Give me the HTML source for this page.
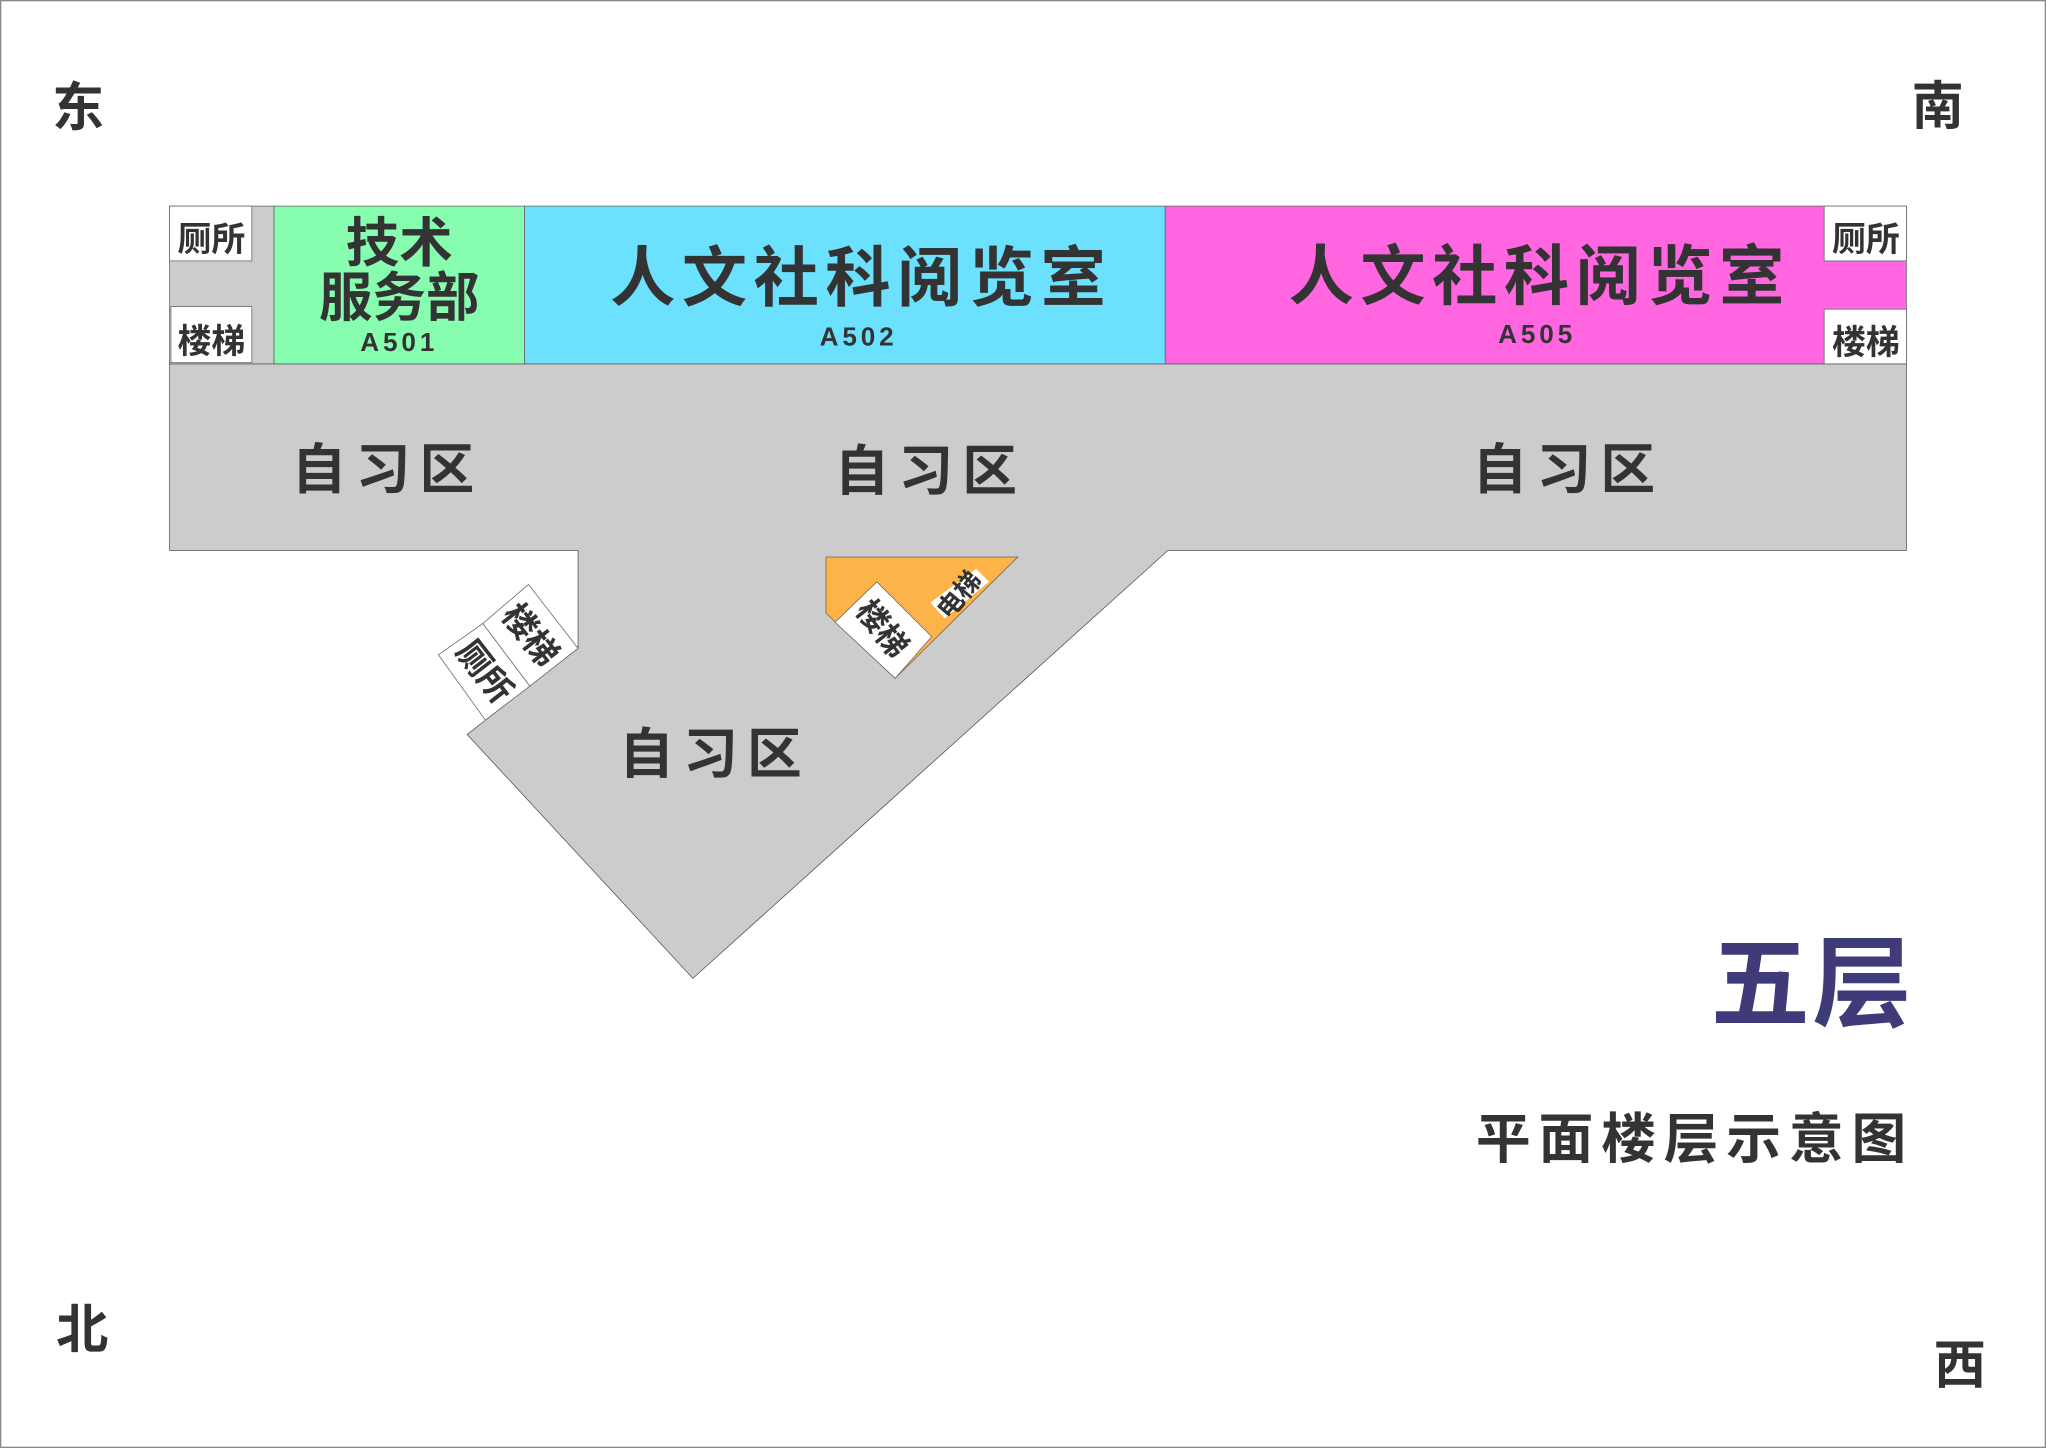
<!DOCTYPE html>
<html><head><meta charset="utf-8"><style>
html,body{margin:0;padding:0;background:#fff;}
svg{display:block;}
text{font-family:"Liberation Sans","Noto Sans CJK SC",sans-serif;font-weight:bold;fill:#333;text-anchor:middle;dominant-baseline:central;}
</style></head><body>
<svg width="2046" height="1448" viewBox="0 0 1568 1110" preserveAspectRatio="none" xmlns="http://www.w3.org/2000/svg">
<rect x="0.5" y="0.5" width="1567" height="1109" fill="#fff" stroke="#888" stroke-width="1"/>
<rect x="130" y="158" width="80" height="121" fill="#ccc" stroke="#666" stroke-width="0.6"/>
<rect x="210" y="158" width="192" height="121" fill="#86fdaf" stroke="#666" stroke-width="0.6"/>
<rect x="402" y="158" width="491" height="121" fill="#6be1fe" stroke="#666" stroke-width="0.6"/>
<rect x="893" y="158" width="568" height="121" fill="#ff66e0" stroke="#666" stroke-width="0.6"/>
<rect x="130" y="158" width="63" height="42" fill="#fff" stroke="#666" stroke-width="0.6"/>
<rect x="131" y="235" width="62" height="43" fill="#fff" stroke="#666" stroke-width="0.6"/>
<rect x="1398" y="158" width="63" height="42" fill="#fff" stroke="#666" stroke-width="0.6"/>
<rect x="1398" y="237" width="63" height="42" fill="#fff" stroke="#666" stroke-width="0.6"/>
<polygon points="130,279 1461,279 1461,422 895,422 531,750 358,563 443,497 443,422 130,422" fill="#ccc" stroke="#555" stroke-width="0.6"/>
<polygon points="443,497 406,526 370,478 405,448" fill="#fff" stroke="#666" stroke-width="0.6"/>
<polygon points="406,526 372,552 336,502 370,478" fill="#fff" stroke="#666" stroke-width="0.6"/>
<polygon points="633,427 780,427 686,520 633,470" fill="#fdb347" stroke="#666" stroke-width="0.6"/>
<polygon points="640,477 672,446 714,488 686,520" fill="#fff" stroke="#666" stroke-width="0.6"/>
<polygon points="713,462 748,436 758,446 724,474" fill="#fff" stroke="none"/>
<text x="60" y="83" font-size="40">东</text>
<text x="1485" y="82" font-size="40">南</text>
<text x="63" y="1020" font-size="40">北</text>
<text x="1502" y="1047" font-size="40">西</text>
<text x="1389" y="755" font-size="76" style="fill:#3f3a78" letter-spacing="2">五层</text>
<text x="1299" y="873" font-size="42" letter-spacing="6">平面楼层示意图</text>
<text x="162" y="184" font-size="26">厕所</text>
<text x="162" y="262" font-size="26">楼梯</text>
<text x="1430" y="184" font-size="26">厕所</text>
<text x="1430" y="263" font-size="26">楼梯</text>
<text x="306" y="187" font-size="41">技术</text>
<text x="306" y="229" font-size="41">服务部</text>
<text x="306" y="262" font-size="20" letter-spacing="3">A501</text>
<text x="660" y="213" font-size="50" letter-spacing="5">人文社科阅览室</text>
<text x="658" y="258" font-size="20" letter-spacing="3">A502</text>
<text x="1180" y="212" font-size="50" letter-spacing="5">人文社科阅览室</text>
<text x="1178" y="256" font-size="20" letter-spacing="3">A505</text>
<text x="297" y="360" font-size="42" letter-spacing="7">自习区</text>
<text x="713" y="361" font-size="42" letter-spacing="7">自习区</text>
<text x="1202" y="360" font-size="42" letter-spacing="7">自习区</text>
<text x="548" y="578" font-size="42" letter-spacing="7">自习区</text>
<text x="0" y="0" font-size="26" transform="translate(406,487) rotate(52)">楼梯</text>
<text x="0" y="0" font-size="26" transform="translate(371,515) rotate(52)">厕所</text>
<text x="0" y="0" font-size="24" transform="translate(676,482) rotate(52)">楼梯</text>
<text x="0" y="0" font-size="20" transform="translate(735,456) rotate(-50)">电梯</text>
</svg>
</body></html>
